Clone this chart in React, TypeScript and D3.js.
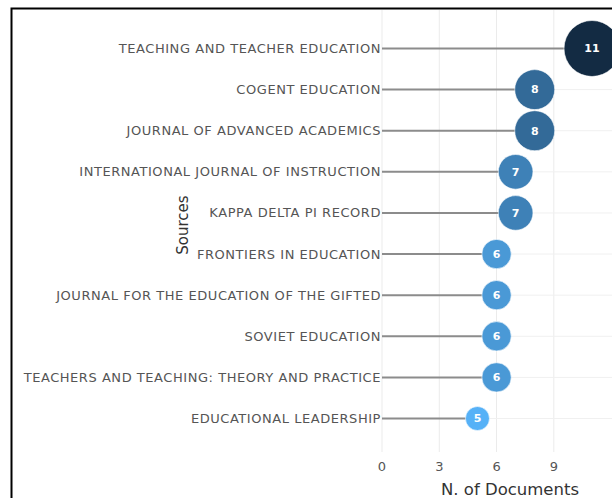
import * as d3 from 'd3';
import React from 'react';

const sources = [
  'TEACHING AND TEACHER EDUCATION',
  'COGENT EDUCATION',
  'JOURNAL OF ADVANCED ACADEMICS',
  'INTERNATIONAL JOURNAL OF INSTRUCTION',
  'KAPPA DELTA PI RECORD',
  'FRONTIERS IN EDUCATION',
  'JOURNAL FOR THE EDUCATION OF THE GIFTED',
  'SOVIET EDUCATION',
  'TEACHERS AND TEACHING: THEORY AND PRACTICE',
  'EDUCATIONAL LEADERSHIP',
];
const documents = [11, 8, 8, 7, 7, 6, 6, 6, 6, 5];
const xTicks = [0, 3, 6, 9];

const W = 612;
const H = 498;

const App: React.FC = () => {
  const x = d3.scaleLinear().domain([0, 11]).range([382, 592]);
  const y = d3.scalePoint<string>().domain(sources).range([48.5, 418.5]);
  const r = d3.scaleLinear().domain([5, 11]).range([12, 28]);
  const color = d3.scaleLinear<string>()
    .domain([5, 11])
    .range(['#56B1F7', '#132B43'])
    .interpolate(d3.interpolateLab);

  return (
    <svg width={W} height={H} style={{ position: 'absolute', left: 0, top: 0, background: '#fff' }}>
      {/* grid */}
      {xTicks.map(t => (
        <line key={'gx' + t} x1={x(t)} x2={x(t)} y1={10} y2={452} stroke="#ebebeb" strokeWidth={1} />
      ))}
      {sources.map(s => (
        <line key={'gy' + s} x1={x(0)} x2={W} y1={y(s)} y2={y(s)} stroke="#f0f0f0" strokeWidth={1} />
      ))}

      {/* stems */}
      {sources.map((s, i) => (
        <line key={'st' + s} x1={x(0)} x2={x(documents[i])} y1={y(s)} y2={y(s)} stroke="#8c8c8c" strokeWidth={2} />
      ))}

      {/* source labels */}
      {sources.map(s => (
        <text key={'lb' + s} x={x(0) - 1} y={y(s)} dy="0.35em" textAnchor="end"
          fontFamily="DejaVu Sans, sans-serif" fontSize={13} letterSpacing={0.55} fill="#555">
          {s}
        </text>
      ))}

      {/* bubbles */}
      {sources.map((s, i) => (
        <g key={'b' + s} transform={`translate(${x(documents[i])},${y(s)})`}>
          <circle r={r(documents[i])} fill={color(documents[i])} stroke="#ffffff" strokeOpacity={0.6} strokeWidth={1} />
          <text dy="0.35em" textAnchor="middle" fill="#fff" fontWeight="bold"
            fontFamily="DejaVu Sans, sans-serif" fontSize={11}>
            {documents[i]}
          </text>
        </g>
      ))}

      {/* x tick labels */}
      {xTicks.map(t => (
        <text key={'tx' + t} x={x(t)} y={466} dy="0.35em" textAnchor="middle"
          fontFamily="DejaVu Sans, sans-serif" fontSize={13} fill="#555">
          {t}
        </text>
      ))}
      <text x={510} y={489} dy="0.35em" textAnchor="middle"
        fontFamily="DejaVu Sans, sans-serif" fontSize={16.5} fill="#333">
        N. of Documents
      </text>
      <text transform="translate(183,225) rotate(-90)" dy="0.35em" textAnchor="middle"
        fontFamily="DejaVu Sans, sans-serif" fontSize={15} fill="#333">
        Sources
      </text>

      {/* frame */}
      <rect x={11.5} y={8.5} width={W + 10} height={H + 10} fill="none" stroke="#000" strokeWidth={2} />
    </svg>
  );
};

export default App;
